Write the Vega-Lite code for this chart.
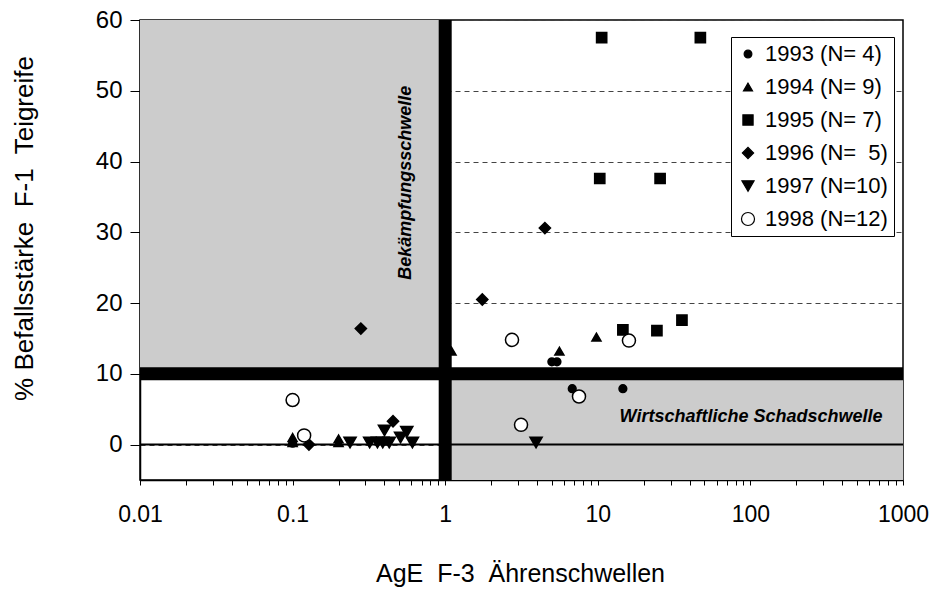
{
  "$schema": "https://vega.github.io/schema/vega-lite/v6.json",
  "width": 763,
  "height": 460,
  "autosize": {"type": "none"},
  "padding": {"left": 140, "top": 20, "right": 29, "bottom": 112},
  "background": "white",
  "config": {
    "font": "Liberation Sans",
    "view": {"stroke": "black", "strokeWidth": 1.5},
    "axis": {"labelColor": "black", "titleColor": "black", "domainColor": "black", "tickColor": "black", "titleFontWeight": "normal"}
  },
  "datasets": {
    "zones": [
      {"x1": 0.01, "x2": 1, "y1": 10, "y2": 60},
      {"x1": 1, "x2": 1000, "y1": -5, "y2": 10}
    ],
    "pts": [
      {"serie": "1993 (N= 4)", "x": 0.1, "y": 0.2},
      {"serie": "1993 (N= 4)", "x": 5.0, "y": 11.7},
      {"serie": "1993 (N= 4)", "x": 5.4, "y": 11.7},
      {"serie": "1993 (N= 4)", "x": 6.8, "y": 7.9},
      {"serie": "1993 (N= 4)", "x": 14.6, "y": 7.9},
      {"serie": "1994 (N= 9)", "x": 0.1, "y": 1.0},
      {"serie": "1994 (N= 9)", "x": 0.1, "y": 0.3},
      {"serie": "1994 (N= 9)", "x": 0.2, "y": 0.8},
      {"serie": "1994 (N= 9)", "x": 0.2, "y": 0.3},
      {"serie": "1994 (N= 9)", "x": 1.1, "y": 13.2},
      {"serie": "1994 (N= 9)", "x": 5.6, "y": 13.2},
      {"serie": "1994 (N= 9)", "x": 9.8, "y": 15.2},
      {"serie": "1995 (N= 7)", "x": 10.6, "y": 57.5},
      {"serie": "1995 (N= 7)", "x": 47, "y": 57.5},
      {"serie": "1995 (N= 7)", "x": 10.3, "y": 37.6},
      {"serie": "1995 (N= 7)", "x": 25.6, "y": 37.6},
      {"serie": "1995 (N= 7)", "x": 14.6, "y": 16.2},
      {"serie": "1995 (N= 7)", "x": 24.4, "y": 16.1},
      {"serie": "1995 (N= 7)", "x": 35.6, "y": 17.6},
      {"serie": "1996 (N=\u00a0 5)", "x": 0.28, "y": 16.4},
      {"serie": "1996 (N=\u00a0 5)", "x": 0.128, "y": 0},
      {"serie": "1996 (N=\u00a0 5)", "x": 0.455, "y": 3.3},
      {"serie": "1996 (N=\u00a0 5)", "x": 1.75, "y": 20.5},
      {"serie": "1996 (N=\u00a0 5)", "x": 4.5, "y": 30.6},
      {"serie": "1997 (N=10)", "x": 0.238, "y": 0.3},
      {"serie": "1997 (N=10)", "x": 0.32, "y": 0.3},
      {"serie": "1997 (N=10)", "x": 0.36, "y": 0.3},
      {"serie": "1997 (N=10)", "x": 0.39, "y": 0.3},
      {"serie": "1997 (N=10)", "x": 0.43, "y": 0.3},
      {"serie": "1997 (N=10)", "x": 0.40, "y": 2.0},
      {"serie": "1997 (N=10)", "x": 0.51, "y": 1.0},
      {"serie": "1997 (N=10)", "x": 0.56, "y": 1.8},
      {"serie": "1997 (N=10)", "x": 0.61, "y": 0.3},
      {"serie": "1997 (N=10)", "x": 3.94, "y": 0.3},
      {"serie": "1998 (N=12)", "x": 0.1, "y": 6.3},
      {"serie": "1998 (N=12)", "x": 0.119, "y": 1.3},
      {"serie": "1998 (N=12)", "x": 2.74, "y": 14.8},
      {"serie": "1998 (N=12)", "x": 16, "y": 14.7},
      {"serie": "1998 (N=12)", "x": 7.53, "y": 6.8},
      {"serie": "1998 (N=12)", "x": 3.14, "y": 2.8}
    ],
    "labels": [
      {"x": 0.55, "y": 37, "t": "Bekämpfungsschwelle", "a": 270},
      {"x": 101, "y": 3.9, "t": "Wirtschaftliche Schadschwelle", "a": 0}
    ]
  },
  "layer": [
    {
      "data": {"name": "zones"},
      "mark": {"type": "rect", "fill": "#cccccc"},
      "encoding": {
        "x": {
          "field": "x1", "type": "quantitative",
          "scale": {"type": "log", "domain": [0.01, 1000], "nice": false},
          "axis": {
            "title": "AgE\u00a0 F-3\u00a0 Ährenschwellen",
            "titleFontSize": 25, "titleX": 380, "titleY": 93, "titleBaseline": "middle",
            "values": [0.01,0.02,0.03,0.04,0.05,0.06,0.07,0.08,0.09,0.1,0.2,0.3,0.4,0.5,0.6,0.7,0.8,0.9,1,2,3,4,5,6,7,8,9,10,20,30,40,50,60,70,80,90,100,200,300,400,500,600,700,800,900,1000],
            "labelExpr": "abs(log(datum.value)/LN10 - round(log(datum.value)/LN10)) < 0.000001 ? format(datum.value, '~g') : ''",
            "labelFontSize": 23, "labelPadding": 18, "tickSize": 5, "tickWidth": 1,
            "grid": false, "domainWidth": 1.5, "labelOverlap": false, "labelFlush": false
          }
        },
        "x2": {"field": "x2"},
        "y": {
          "field": "y1", "type": "quantitative",
          "scale": {"domain": [-5, 60], "nice": false, "zero": false},
          "axis": {
            "title": "% Befallsstärke\u00a0 F-1\u00a0 Teigreife",
            "titleFontSize": 26, "titleX": -116, "titleY": 208, "titleAngle": -90,
            "titleAlign": "center", "titleBaseline": "middle",
            "values": [0, 10, 20, 30, 40, 50, 60],
            "labelFontSize": 24, "labelPadding": 8, "tickSize": 10, "tickWidth": 1,
            "grid": true, "gridDash": [5, 4], "gridColor": "#444444", "gridWidth": 1,
            "domainWidth": 1.5, "labelFlush": false
          }
        },
        "y2": {"field": "y2"}
      }
    },
    {
      "data": {"values": [{"v": 0}]},
      "mark": {"type": "rule", "color": "black", "strokeWidth": 2},
      "encoding": {"y": {"field": "v", "type": "quantitative"}}
    },
    {
      "data": {"values": [{"v": 10}]},
      "mark": {"type": "rule", "color": "black", "strokeWidth": 13},
      "encoding": {"y": {"field": "v", "type": "quantitative"}}
    },
    {
      "data": {"values": [{"v": 1}]},
      "mark": {"type": "rule", "color": "black", "strokeWidth": 13},
      "encoding": {"x": {"field": "v", "type": "quantitative"}}
    },
    {
      "data": {"name": "pts"},
      "mark": {"type": "point", "filled": true, "stroke": "black", "strokeWidth": 1.5, "opacity": 1},
      "encoding": {
        "x": {"field": "x", "type": "quantitative"},
        "y": {"field": "y", "type": "quantitative"},
        "shape": {
          "field": "serie", "type": "nominal",
          "scale": {"domain": ["1993 (N= 4)", "1994 (N= 9)", "1995 (N= 7)", "1996 (N=\u00a0 5)", "1997 (N=10)", "1998 (N=12)"],
                    "range": ["circle", "triangle-up", "square", "diamond", "triangle-down", "circle"]},
          "legend": {
            "title": null, "orient": "none", "legendX": 591, "legendY": 17,
            "labelFontSize": 22, "labelColor": "black", "labelLimit": 300,
            "rowPadding": 11, "padding": 6, "labelOffset": 6,
            "strokeColor": "black", "fillColor": "white",
            "symbolStrokeColor": "black", "symbolStrokeWidth": 1.2
          }
        },
        "fill": {
          "field": "serie", "type": "nominal",
          "scale": {"domain": ["1993 (N= 4)", "1994 (N= 9)", "1995 (N= 7)", "1996 (N=\u00a0 5)", "1997 (N=10)", "1998 (N=12)"],
                    "range": ["black", "black", "black", "black", "black", "white"]}
        },
        "size": {
          "field": "serie", "type": "nominal",
          "scale": {"domain": ["1993 (N= 4)", "1994 (N= 9)", "1995 (N= 7)", "1996 (N=\u00a0 5)", "1997 (N=10)", "1998 (N=12)"],
                    "range": [60, 170, 145, 175, 170, 125]}
        }
      }
    },
    {
      "data": {"name": "labels"},
      "mark": {"type": "text", "fontSize": 18, "fontWeight": "bold", "fontStyle": "italic", "color": "black", "align": "center", "baseline": "middle"},
      "encoding": {
        "x": {"field": "x", "type": "quantitative"},
        "y": {"field": "y", "type": "quantitative"},
        "text": {"field": "t"},
        "angle": {"field": "a", "type": "quantitative", "scale": null}
      }
    }
  ]
}
